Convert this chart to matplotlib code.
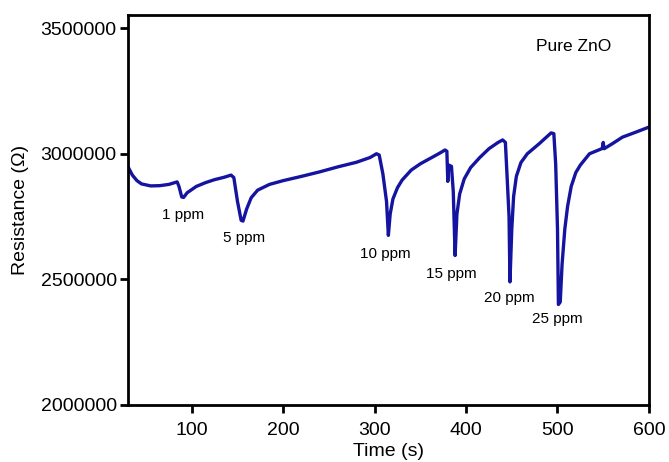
import matplotlib
matplotlib.use("Agg")
import matplotlib.pyplot as plt

# resistance trace (time in s, resistance in ohm)
time_s = [30, 35, 40, 45, 55, 65, 75, 84, 86, 89, 91, 95, 105, 115, 125, 135, 143,
          146, 150, 154, 156, 160, 165, 172, 185, 200, 220, 240, 260, 280, 295, 302,
          305, 309, 313, 315, 317, 320, 325, 330, 340, 350, 360, 370, 377, 379, 380,
          381, 384, 386, 388, 390, 393, 398, 405, 415, 425, 435, 440, 443, 445, 447,
          448, 450, 452, 455, 460, 467, 480, 493, 496, 498, 500, 501, 503, 505, 508,
          511, 515, 520, 525, 535, 549, 550, 551, 560, 571, 585, 600]
resistance = [2950000, 2915000, 2893000, 2880000, 2872000, 2873000, 2878000, 2888000,
              2870000, 2828000, 2826000, 2845000, 2870000, 2885000, 2897000, 2906000,
              2915000, 2905000, 2810000, 2735000, 2732000, 2780000, 2825000, 2855000,
              2878000, 2893000, 2910000, 2928000, 2948000, 2966000, 2985000, 3000000,
              2995000, 2920000, 2810000, 2675000, 2760000, 2820000, 2865000, 2895000,
              2935000, 2960000, 2980000, 3000000, 3015000, 3010000, 2890000, 2955000,
              2950000, 2850000, 2595000, 2760000, 2840000, 2900000, 2945000, 2985000,
              3020000, 3045000, 3055000, 3045000, 2900000, 2750000, 2490000, 2700000,
              2830000, 2910000, 2965000, 3000000, 3040000, 3083000, 3080000, 2960000,
              2700000, 2400000, 2410000, 2560000, 2700000, 2790000, 2870000, 2925000,
              2955000, 3000000, 3021000, 3045000, 3020000, 3040000, 3066000, 3085000,
              3106000]

ppm_labels = ["1 ppm", "5 ppm", "10 ppm", "15 ppm", "20 ppm", "25 ppm"]
label_t = [90, 157, 312, 384, 447, 500]
label_r = [2755000, 2665000, 2600000, 2520000, 2424000, 2341000]

plt.rcParams["font.family"] = ["Liberation Sans", "DejaVu Sans"]

fig = plt.figure(figsize=(6.69, 4.62), dpi=100)
ax = fig.add_axes([0.191, 0.1234, 0.779, 0.844])

ax.plot(time_s, resistance, color="#1414a0", lw=2.4, solid_joinstyle="round")

for txt, t, r in zip(ppm_labels, label_t, label_r):
    ax.text(t, r, txt, fontsize=11, ha="center", va="center")
ax.text(518, 3425000, "Pure ZnO", fontsize=12.5, ha="center", va="center")

ax.set_xlim(30, 600)
ax.set_ylim(2000000, 3552000)
ax.set_xticks([100, 200, 300, 400, 500, 600])
ax.set_yticks([2000000, 2500000, 3000000, 3500000])
ax.set_yticklabels(["2000000", "2500000", "3000000", "3500000"])
ax.tick_params(direction="out", length=6, width=2, labelsize=14, pad=2)
ax.tick_params(axis="x", pad=6)
for s in ax.spines.values():
    s.set_linewidth(2)

ax.set_xlabel("Time (s)", fontsize=14, labelpad=3)
ax.set_ylabel("Resistance (\u03a9)", fontsize=14, labelpad=8)

fig.savefig("out.png", dpi=100)
